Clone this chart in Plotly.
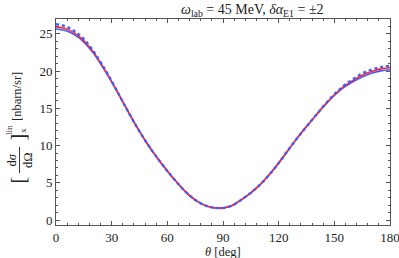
import plotly.graph_objects as go

theta = [0, 5, 10, 15, 20, 25, 30, 35, 40, 45, 50, 55, 60, 65, 70, 75, 80, 85, 90,
         95, 100, 105, 110, 115, 120, 125, 130, 135, 140, 145, 150, 155, 160, 165, 170, 175, 180]
red_vals = [25.95, 25.72, 25.1, 24.1, 22.6, 20.7, 18.6, 16.35, 14.05, 11.9, 9.95, 8.2, 6.6, 5.1, 3.75, 2.7, 2.0, 1.65, 1.62,
            1.95, 2.75, 3.65, 4.75, 6.1, 7.65, 9.35, 11.0, 12.55, 14.05, 15.5, 16.8, 17.9, 18.75, 19.45, 19.95, 20.3, 20.45]
blue_solid_vals = [25.65, 25.44, 24.86, 23.9, 22.45, 20.6, 18.55, 16.35, 14.05, 11.9, 9.95, 8.2, 6.6, 5.1, 3.75, 2.7, 2.0, 1.65, 1.62,
                   1.95, 2.75, 3.65, 4.75, 6.1, 7.65, 9.35, 11.0, 12.55, 14.05, 15.45, 16.72, 17.78, 18.58, 19.22, 19.7, 20.03, 20.18]
blue_dot_vals = [26.3, 26.04, 25.36, 24.3, 22.75, 20.8, 18.65, 16.35, 14.05, 11.9, 9.95, 8.2, 6.6, 5.1, 3.75, 2.7, 2.0, 1.65, 1.62,
                 1.95, 2.75, 3.65, 4.75, 6.1, 7.65, 9.35, 11.0, 12.55, 14.05, 15.55, 16.88, 18.02, 18.92, 19.68, 20.2, 20.55, 20.72]

x_ticks = [0, 30, 60, 90, 120, 150, 180]
y_ticks = [0, 5, 10, 15, 20, 25]

RED = "#ff2a2a"
BLUE = "#3f5cff"
SERIF = "Liberation Serif"
TXT = "#222222"

fig = go.Figure()
fig.add_trace(go.Scatter(x=theta, y=blue_solid_vals, mode="lines", line=dict(color=BLUE, width=1.6, shape="spline")))
fig.add_trace(go.Scatter(x=theta, y=red_vals, mode="lines", line=dict(color=RED, width=1.6, shape="spline")))
fig.add_trace(go.Scatter(x=theta, y=blue_dot_vals, mode="lines", line=dict(color=BLUE, width=2.4, shape="spline", dash="dot")))

axis_common = dict(
    showline=True, linecolor="#555555", linewidth=1, mirror="ticks",
    ticks="inside", ticklen=4, tickcolor="#555555", tickwidth=0.8,
    showgrid=False, zeroline=False, automargin=False, ticklabeloverflow="allow",
    tickfont=dict(family=SERIF, size=13, color=TXT),
)

fig.update_layout(
    width=399, height=258, autosize=False,
    margin=dict(l=56, r=9, t=19, b=33, pad=0),
    paper_bgcolor="white", plot_bgcolor="white",
    showlegend=False,
    xaxis=dict(range=[0, 180], tickvals=x_ticks,
               minor=dict(ticks="inside", ticklen=2, dtick=6, tickcolor="#555555", showgrid=False), **axis_common),
    yaxis=dict(range=[-0.67, 27.0], tickvals=y_ticks,
               minor=dict(ticks="inside", ticklen=2, dtick=1, tick0=0, tickcolor="#555555", showgrid=False), **axis_common),
)

W = 334.0
H = 206.0
def px(x):
    return (x - 56) / W
def py(y):
    return (225 - y) / H

fig.add_annotation(xref="paper", yref="paper", showarrow=False, x=px(252), y=py(10),
                   xanchor="center", yanchor="middle",
                   text="<i>ω</i><sub>lab</sub> = 45 MeV, <i>δα</i><sub>E1</sub> = ±2",
                   font=dict(family=SERIF, size=14, color=TXT))
fig.add_annotation(xref="paper", yref="paper", showarrow=False, x=px(223), y=py(252),
                   xanchor="center", yanchor="middle",
                   text="<i>θ</i> [deg]", font=dict(family=SERIF, size=12.5, color=TXT))

ann_font = dict(family=SERIF, size=12.5, color=TXT)
annots = [
    dict(text="[nbarn/sr]", x=px(17), y=py(97), font=ann_font),
    dict(text="]", x=px(17.5), y=py(137), font=dict(family=SERIF, size=20, color=TXT)),
    dict(text="lin", x=px(9), y=py(130), font=dict(family=SERIF, size=9, color=TXT)),
    dict(text="x", x=px(23), y=py(131), font=dict(family=SERIF, size=9, color=TXT)),
    dict(text="d<i>σ</i>", x=px(11.5), y=py(160), font=ann_font),
    dict(text="dΩ", x=px(28), y=py(160), font=ann_font),
    dict(text="[", x=px(17.5), y=py(180), font=dict(family=SERIF, size=20, color=TXT)),
]
for a in annots:
    fig.add_annotation(xref="paper", yref="paper", showarrow=False, textangle=-90,
                       xanchor="center", yanchor="middle", **a)

fig.add_shape(type="line", xref="paper", yref="paper", x0=px(19.5), x1=px(19.5), y0=py(147), y1=py(173),
              line=dict(color=TXT, width=0.9))

fig.write_html("out.html", config={"displayModeBar": False},
               post_script="document.body.style.margin='0';document.body.style.overflow='hidden';document.documentElement.style.overflow='hidden';")
